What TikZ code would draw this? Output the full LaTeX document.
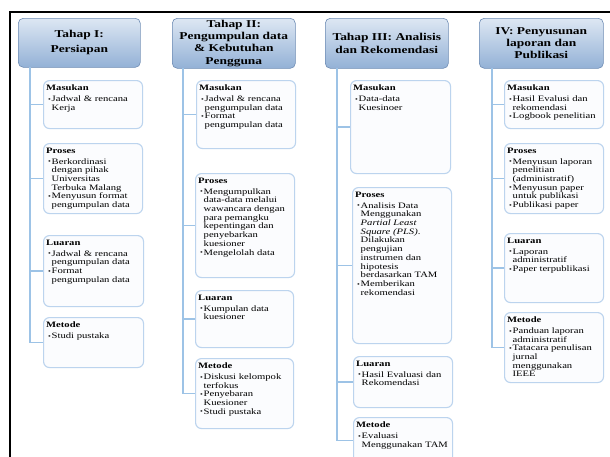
\documentclass[tikz,border=0pt]{standalone}
\usepackage{fontspec}
\usepackage{graphicx}
\setmainfont{Liberation Serif}[FakeStretch=1.28]
\definecolor{hdrtop}{HTML}{DDE7F3}
\definecolor{hdrbot}{HTML}{93B1D6}
\definecolor{hdrline}{HTML}{6E8CB4}
\definecolor{boxline}{HTML}{BCD4EE}
\definecolor{boxfill}{HTML}{FBFCFE}
\definecolor{connc}{HTML}{9DC3E6}
\newcommand\bl{\hspace*{2pt}\makebox[3.5pt][l]{\raisebox{0.4pt}{\scalebox{0.75}{\textbullet}}}}
\newcommand\cl{\hspace*{5.5pt}}
\tikzset{
  hdr/.style={draw=hdrline, line width=0.6pt, rounded corners=5pt, top color=hdrtop, bottom color=hdrbot, anchor=north west, inner sep=0pt},
  bx/.style={draw=boxline, line width=1.1pt, rounded corners=6pt, fill=boxfill, anchor=north west, inner sep=0pt},
  txt/.style={anchor=north west, inner sep=0pt, align=left, font=\fontsize{8.3}{8.7}\selectfont},
  htxt/.style={anchor=center, inner sep=0pt, align=center, font=\bfseries\fontsize{10.5}{12.3}\selectfont},
  conn/.style={draw=connc, line width=1.4pt},
}
\begin{document}
\begin{tikzpicture}[x=1pt,y=-1pt]
\useasboundingbox (0,0) rectangle (610,456);
\fill[white] (0,0) rectangle (610,456);
\draw[line width=1.6pt] (10,470) -- (10,12) -- (620,12);

% ---------- Column 1
\node[hdr, minimum width=122pt, minimum height=49pt] (h1) at (18,18) {};
\node[htxt] (h1t) at (h1.center) {Tahap I:\\[2.7pt]Persiapan};
\coordinate (v1) at (30,67);
\node[bx, minimum width=99pt, minimum height=48pt] (a1) at (43,80) {};
\node[bx, minimum width=99pt, minimum height=70pt] (a2) at (43,143) {};
\node[bx, minimum width=100pt, minimum height=71pt] (a3) at (43,235) {};
\node[bx, minimum width=100pt, minimum height=50pt] (a4) at (43,317) {};
\foreach \n in {a1,a2,a3,a4} {\draw[conn] (v1) |- (\n.west);}
\node[txt] (a1t) at ([shift={(3,4.5)}]a1.north west) {\textbf{Masukan}\\[2.3pt]\bl Jadwal \& rencana\\\cl Kerja};
\node[txt] (a2t) at ([shift={(3,4.5)}]a2.north west) {\textbf{Proses}\\[2.3pt]\bl Berkordinasi\\\cl dengan pihak\\\cl Universitas\\\cl Terbuka Malang\\\bl Menyusun format\\\cl pengumpulan data};
\node[txt] (a3t) at ([shift={(3,4.5)}]a3.north west) {\textbf{Luaran}\\[2.3pt]\bl Jadwal \& rencana\\\cl pengumpulan data\\\bl Format\\\cl pengumpulan data};
\node[txt] (a4t) at ([shift={(3,4.5)}]a4.north west) {\textbf{Metode}\\[2.3pt]\bl Studi pustaka};

% ---------- Column 2
\node[hdr, minimum width=123pt, minimum height=50pt] (h2) at (172,18) {};
\node[htxt] (h2t) at (h2.center) {Tahap II:\\Pengumpulan data\\\& Kebutuhan\\Pengguna};
\coordinate (v2) at (183,68);
\node[bx, minimum width=99pt, minimum height=68pt] (b1) at (196,80) {};
\node[bx, minimum width=99pt, minimum height=104pt] (b2) at (195,173) {};
\node[bx, minimum width=98pt, minimum height=57pt] (b3) at (195,290) {};
\node[bx, minimum width=98pt, minimum height=70pt] (b4) at (195,358) {};
\foreach \n in {b1,b2,b3,b4} {\draw[conn] (v2) |- (\n.west);}
\node[txt] (b1t) at ([shift={(3,4.5)}]b1.north west) {\textbf{Masukan}\\[2.3pt]\bl Jadwal \& rencana\\\cl pengumpulan data\\\bl Format\\\cl pengumpulan data};
\node[txt] (b2t) at ([shift={(3,4.5)}]b2.north west) {\textbf{Proses}\\[2.3pt]\bl Mengumpulkan\\\cl data-data melalui\\\cl wawancara dengan\\\cl para pemangku\\\cl kepentingan dan\\\cl penyebarkan\\\cl kuesioner\\\bl Mengelolah data};
\node[txt] (b3t) at ([shift={(3,4.5)}]b3.north west) {\textbf{Luaran}\\[2.3pt]\bl Kumpulan data\\\cl kuesioner};
\node[txt] (b4t) at ([shift={(3,4.5)}]b4.north west) {\textbf{Metode}\\[2.3pt]\bl Diskusi kelompok\\\cl terfokus\\\bl Penyebaran\\\cl Kuesioner\\\bl Studi pustaka};

% ---------- Column 3
\node[hdr, minimum width=123pt, minimum height=50pt] (h3) at (325,18) {};
\node[htxt] (h3t) at (h3.center) {Tahap III: Analisis\\dan Rekomendasi};
\coordinate (v3) at (337,68);
\node[bx, minimum width=100pt, minimum height=93pt] (c1) at (350,80) {};
\node[bx, minimum width=99pt, minimum height=156pt] (c2) at (352,187) {};
\node[bx, minimum width=99pt, minimum height=51pt] (c3) at (353,356) {};
\node[bx, minimum width=99pt, minimum height=46pt] (c4) at (353,417) {};
\foreach \n in {c1,c2,c3,c4} {\draw[conn] (v3) |- (\n.west);}
\node[txt] (c1t) at ([shift={(3,4.5)}]c1.north west) {\textbf{Masukan}\\[2.3pt]\bl Data-data\\\cl Kuesinoer};
\node[txt] (c2t) at ([shift={(3,4.5)}]c2.north west) {\textbf{Proses}\\[2.3pt]\bl Analisis Data\\\cl Menggunakan\\\cl \textit{Partial Least}\\\cl \textit{Square (PLS)}.\\\cl Dilakukan\\\cl pengujian\\\cl instrumen dan\\\cl hipotesis\\\cl berdasarkan TAM\\\bl Memberikan\\\cl rekomendasi};
\node[txt] (c3t) at ([shift={(3,4.5)}]c3.north west) {\textbf{Luaran}\\[2.3pt]\bl Hasil Evaluasi dan\\\cl Rekomendasi};
\node[txt] (c4t) at ([shift={(3,4.5)}]c4.north west) {\textbf{Metode}\\[2.3pt]\bl Evaluasi\\\cl Menggunakan TAM};

% ---------- Column 4
\node[hdr, minimum width=124pt, minimum height=50pt] (h4) at (479,18) {};
\node[htxt] (h4t) at (h4.center) {IV: Penyusunan\\laporan dan\\Publikasi};
\coordinate (v4) at (492,68);
\node[bx, minimum width=99pt, minimum height=48pt] (d1) at (504,80) {};
\node[bx, minimum width=99pt, minimum height=70pt] (d2) at (504,143) {};
\node[bx, minimum width=99pt, minimum height=69pt] (d3) at (504,233) {};
\node[bx, minimum width=99pt, minimum height=70pt] (d4) at (504,312) {};
\foreach \n in {d1,d2,d3,d4} {\draw[conn] (v4) |- (\n.west);}
\node[txt] (d1t) at ([shift={(3,4.5)}]d1.north west) {\textbf{Masukan}\\[2.3pt]\bl Hasil Evalusi dan\\\cl rekomendasi\\\bl Logbook penelitian};
\node[txt] (d2t) at ([shift={(3,4.5)}]d2.north west) {\textbf{Proses}\\[2.3pt]\bl Menyusun laporan\\\cl penelitian\\\cl (administratif)\\\bl Menyusun paper\\\cl untuk publikasi\\\bl Publikasi paper};
\node[txt] (d3t) at ([shift={(3,4.5)}]d3.north west) {\textbf{Luaran}\\[2.3pt]\bl Laporan\\\cl administratif\\\bl Paper terpublikasi};
\node[txt] (d4t) at ([shift={(3,4.5)}]d4.north west) {\textbf{Metode}\\[2.3pt]\bl Panduan laporan\\\cl administratif\\\bl Tatacara penulisan\\\cl jurnal\\\cl menggunakan\\\cl IEEE};
\end{tikzpicture}
\end{document}
